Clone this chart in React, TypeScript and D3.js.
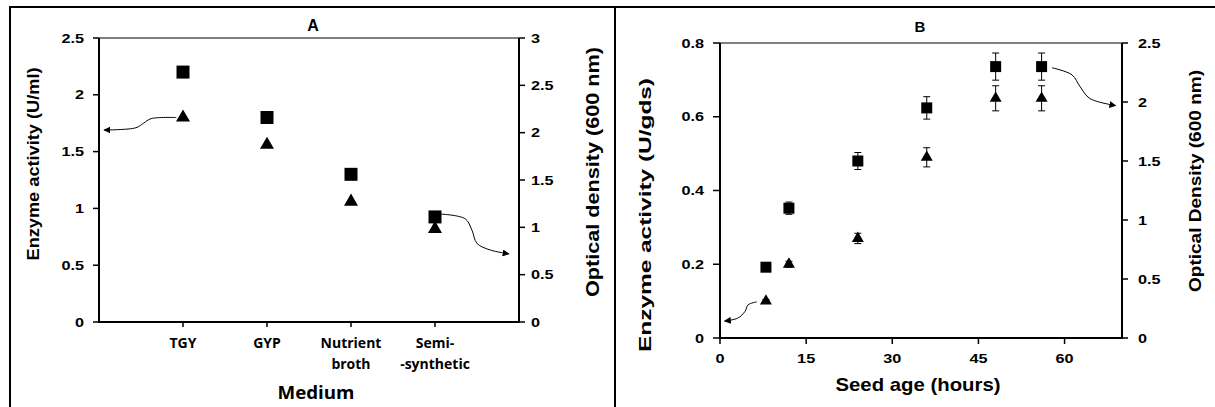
import * as d3 from 'd3'

// ---- panel A: growth medium ----
const media = ['TGY', 'GYP', 'Nutrient broth', 'Semi-synthetic']
const mediaLines = [['TGY'], ['GYP'], ['Nutrient', 'broth'], ['Semi-', '-synthetic']]
const mediaEnzyme = [1.8, 1.56, 1.06, 0.82] // triangles, U/ml (left)
const mediaOD = [2.64, 2.16, 1.56, 1.11] // squares, OD 600 (right)
const ticksALeft = [0, 0.5, 1, 1.5, 2, 2.5]
const ticksARight = [0, 0.5, 1, 1.5, 2, 2.5, 3]

// ---- panel B: seed age ----
const seedAge = [8, 12, 24, 36, 48, 56]
const seedEnzyme = [0.1, 0.2, 0.27, 0.49, 0.65, 0.65] // triangles, U/gds (left)
const seedEnzymeErr = [0.004, 0.008, 0.014, 0.026, 0.034, 0.034]
const seedOD = [0.6, 1.1, 1.5, 1.95, 2.3, 2.3] // squares, OD 600 (right)
const seedODErr = [0.01, 0.052, 0.072, 0.095, 0.115, 0.115]
const ticksBLeft = [0, 0.2, 0.4, 0.6, 0.8]
const ticksBRight = [0, 0.5, 1, 1.5, 2, 2.5]
const ticksBX = [0, 15, 30, 45, 60]

// annotation arrows, in data units of each panel
const arrowA1 = [[0.92, 1.8], [0.62, 1.79], [0.53, 1.75], [0.44, 1.71], [0.06, 1.69]] // -> left axis
const arrowA2 = [[4.07, 1.14], [4.36, 1.09], [4.44, 0.97], [4.5, 0.83], [4.66, 0.76], [4.88, 0.72]] // -> right axis
const arrowB1 = [[6.4, 0.098], [4.9, 0.09], [4.35, 0.072], [3.1, 0.054], [0.8, 0.046]] // -> left axis
const arrowB2 = [[57.8, 2.29], [61.3, 2.23], [62.7, 2.13], [64.4, 2.03], [68.9, 1.97]] // -> right axis

const W = 1215
const H = 407
const AX = 'Liberation Sans, Arial, sans-serif'
const CAL = 'Open Sans, Liberation Sans, sans-serif'

const xA = d3.scalePoint<string>().domain(media).range([99, 519]).padding(1)
const xAnum = d3.scaleLinear().domain([0, 5]).range([99, 519])
const yAL = d3.scaleLinear().domain([0, 2.5]).range([322, 38])
const yAR = d3.scaleLinear().domain([0, 3]).range([322, 38])

const xB = d3.scaleLinear().domain([0, 70]).range([720, 1122])
const yBL = d3.scaleLinear().domain([0, 0.8]).range([338, 43])
const yBR = d3.scaleLinear().domain([0, 2.5]).range([338, 43])

const sq = (s: number) => d3.symbol(d3.symbolSquare, s * s)()
const tri = (w: number) => d3.symbol(d3.symbolTriangle, (Math.sqrt(3) / 4) * w * w)()

function Tick({ x, y, anchor, children }: any) {
  return (
    <text transform={`translate(${x},${y}) scale(1.25,1)`} textAnchor={anchor}
      fontFamily={AX} fontWeight="bold" fontSize={13} fill="#000">{children}</text>
  )
}

function VTitle({ x, y, len, size, children }: any) {
  return (
    <text transform={`translate(${x},${y}) rotate(-90)`} textAnchor="middle" dy="0.35em"
      fontFamily={AX} fontWeight="bold" fontSize={size} textLength={len}
      lengthAdjust="spacingAndGlyphs">{children}</text>
  )
}

function Arrow({ pts, sx, sy }: any) {
  const line = d3.line<number[]>().x(d => sx(d[0])).y(d => sy(d[1])).curve(d3.curveCatmullRom)
  return <path d={line(pts) || ''} fill="none" stroke="#000" strokeWidth={1} markerEnd="url(#ah)" />
}

function PanelA() {
  const [x0, x1] = xAnum.range()
  const [yb, yt] = yAL.range()
  return (
    <g>
      <line x1={x0} x2={x1} y1={yt} y2={yt} stroke="#000" strokeWidth={1.2} />
      <line x1={x0} x2={x0} y1={yt} y2={yb} stroke="#000" strokeWidth={2} />
      <line x1={x1} x2={x1} y1={yt} y2={yb} stroke="#000" strokeWidth={2} />
      <line x1={x0 - 1} x2={x1 + 1} y1={yb} y2={yb} stroke="#000" strokeWidth={2} />
      {ticksALeft.map(t => (
        <g key={'l' + t}>
          <line x1={x0 - 6} x2={x0} y1={yAL(t)} y2={yAL(t)} stroke="#000" strokeWidth={1.5} />
          <Tick x={84} y={yAL(t) + 4.5} anchor="end">{t}</Tick>
        </g>
      ))}
      {ticksARight.map(t => (
        <g key={'r' + t}>
          <line x1={x1} x2={x1 + 6} y1={yAR(t)} y2={yAR(t)} stroke="#000" strokeWidth={1.5} />
          <Tick x={531} y={yAR(t) + 4.5} anchor="start">{t}</Tick>
        </g>
      ))}
      {media.map((m, i) => (
        <g key={m}>
          <line x1={xA(m)} x2={xA(m)} y1={yb} y2={yb + 5} stroke="#000" strokeWidth={1.5} />
          {mediaLines[i].map((s, j) => (
            <text key={s} x={xA(m)} y={348 + j * 21} textAnchor="middle" fontFamily={CAL}
              fontWeight="bold" fontSize={14}>{s}</text>
          ))}
        </g>
      ))}
      {media.map((m, i) => (
        <g key={'p' + m}>
          <path d={sq(13) || ''} transform={`translate(${xA(m)},${yAR(mediaOD[i])})`} fill="#000" />
          <path d={tri(14) || ''} transform={`translate(${xA(m)},${yAL(mediaEnzyme[i])})`} fill="#000" />
        </g>
      ))}
      <Arrow pts={arrowA1} sx={xAnum} sy={yAL} />
      <Arrow pts={arrowA2} sx={xAnum} sy={yAR} />
      <text x={313} y={31} textAnchor="middle" fontFamily={AX} fontWeight="bold" fontSize={16}>A</text>
      <VTitle x={33} y={164} len={193} size={17}>Enzyme activity (U/ml)</VTitle>
      <VTitle x={592} y={172} len={250} size={19}>Optical density (600 nm)</VTitle>
      <text x={316} y={399} textAnchor="middle" fontFamily={CAL} fontWeight="bold" fontSize={18}
        textLength={77} lengthAdjust="spacingAndGlyphs">Medium</text>
    </g>
  )
}

function PanelB() {
  const [x0, x1] = xB.range()
  const [yb, yt] = yBL.range()
  return (
    <g>
      <line x1={x0} x2={x1} y1={yt} y2={yt} stroke="#000" strokeWidth={1.2} />
      <line x1={x0} x2={x0} y1={yt} y2={yb} stroke="#000" strokeWidth={2} />
      <line x1={x1} x2={x1} y1={yt} y2={yb} stroke="#000" strokeWidth={2} />
      <line x1={x0 - 1} x2={x1 + 1} y1={yb} y2={yb} stroke="#000" strokeWidth={2} />
      {ticksBLeft.map(t => (
        <g key={'l' + t}>
          <line x1={x0 - 7} x2={x0} y1={yBL(t)} y2={yBL(t)} stroke="#000" strokeWidth={1.5} />
          <Tick x={704} y={yBL(t) + 4.5} anchor="end">{t}</Tick>
        </g>
      ))}
      {ticksBRight.map(t => (
        <g key={'r' + t}>
          <line x1={x1} x2={x1 + 6} y1={yBR(t)} y2={yBR(t)} stroke="#000" strokeWidth={1.5} />
          <Tick x={1138} y={yBR(t) + 4.5} anchor="start">{t}</Tick>
        </g>
      ))}
      {ticksBX.map(t => (
        <g key={'x' + t}>
          <line x1={xB(t)} x2={xB(t)} y1={yb} y2={yb + 6} stroke="#000" strokeWidth={1.5} />
          <Tick x={xB(t)} y={363} anchor="middle">{t}</Tick>
        </g>
      ))}
      {seedAge.map((a, i) => {
        const cx = xB(a)
        const bars = [
          [yBR(seedOD[i] - seedODErr[i]), yBR(seedOD[i] + seedODErr[i])],
          [yBL(seedEnzyme[i] - seedEnzymeErr[i]), yBL(seedEnzyme[i] + seedEnzymeErr[i])],
        ]
        return (
          <g key={a}>
            {bars.map(([lo, hi], k) => (
              <g key={k} stroke="#000" strokeWidth={1}>
                <line x1={cx} x2={cx} y1={lo} y2={hi} />
                <line x1={cx - 3.5} x2={cx + 3.5} y1={lo} y2={lo} />
                <line x1={cx - 3.5} x2={cx + 3.5} y1={hi} y2={hi} />
              </g>
            ))}
            <path d={sq(11) || ''} transform={`translate(${cx},${yBR(seedOD[i])})`} fill="#000" />
            <path d={tri(12) || ''} transform={`translate(${cx},${yBL(seedEnzyme[i])})`} fill="#000" />
          </g>
        )
      })}
      <Arrow pts={arrowB1} sx={xB} sy={yBL} />
      <Arrow pts={arrowB2} sx={xB} sy={yBR} />
      <text x={920} y={32} textAnchor="middle" fontFamily={AX} fontWeight="bold" fontSize={15}>B</text>
      <VTitle x={645} y={215} len={274} size={16}>Enzyme activity (U/gds)</VTitle>
      <VTitle x={1195} y={181} len={222} size={16}>Optical Density (600 nm)</VTitle>
      <text x={918} y={391} textAnchor="middle" fontFamily={AX} fontWeight="bold" fontSize={19}
        textLength={165} lengthAdjust="spacingAndGlyphs">Seed age (hours)</text>
    </g>
  )
}

export default function App() {
  return (
    <svg width={W} height={H} style={{ position: 'absolute', left: 0, top: 0, background: '#fff' }}>
      <defs>
        <marker id="ah" viewBox="0 0 10 10" refX="9" refY="5" markerWidth="7" markerHeight="7"
          markerUnits="userSpaceOnUse" orient="auto">
          <path d="M0,0 L10,5 L0,10 z" fill="#000" />
        </marker>
      </defs>
      <rect width={W} height={H} fill="#fff" />
      {/* outer frame */}
      <line x1={10} x2={W} y1={7} y2={7} stroke="#000" strokeWidth={2} />
      <line x1={10} x2={10} y1={6} y2={H} stroke="#000" strokeWidth={2} />
      <line x1={615} x2={615} y1={6} y2={H} stroke="#000" strokeWidth={2} />
      <PanelA />
      <PanelB />
    </svg>
  )
}
